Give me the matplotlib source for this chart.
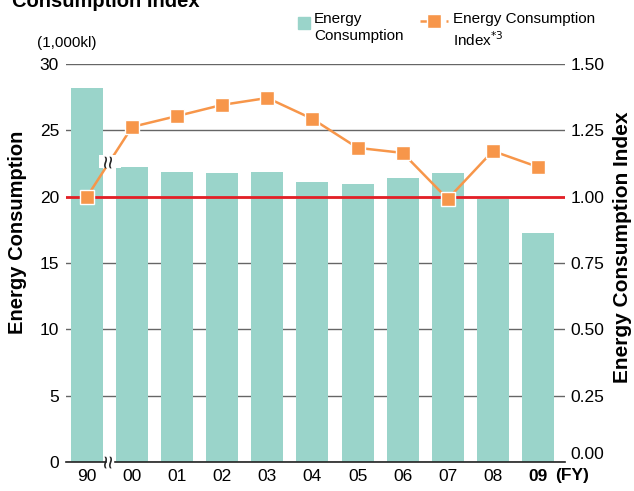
import matplotlib
matplotlib.use("Agg")
import matplotlib.pyplot as plt
from matplotlib.lines import Line2D
from matplotlib.patches import Rectangle
import numpy as np

plt.rcParams["font.family"] = ["Liberation Sans", "DejaVu Sans"]

# data
years = ["90", "00", "01", "02", "03", "04", "05", "06", "07", "08", "09"]
consumption = [28.2, 22.2, 21.85, 21.8, 21.85, 21.1, 20.95, 21.4, 21.8, 19.8, 17.25]
index = [1.00, 1.263, 1.304, 1.346, 1.372, 1.293, 1.184, 1.165, 0.991, 1.172, 1.112]
left_ticks = [0, 5, 10, 15, 20, 25, 30]
right_ticks = [0.0, 0.25, 0.5, 0.75, 1.0, 1.25, 1.5]

bar_color = "#9AD4CA"
line_color = "#F7964A"
red = "#E41F26"

fig = plt.figure(figsize=(6.34, 4.91), dpi=100)
ax = fig.add_axes([66 / 634, 1 - 462 / 491, 499 / 634, 398 / 491])
ax2 = ax.twinx()

x = np.arange(len(years))
ax.bar(x, consumption, width=0.71, color=bar_color, zorder=2)
ax.set_xlim(-0.466, 10.6)
ax.set_ylim(0, 30)
ax.set_yticks(left_ticks)
ax.set_xticks(x)
ax.set_xticklabels(years)
ax.tick_params(axis="y", length=0, pad=5, labelsize=12.5)
ax.tick_params(axis="x", length=0, pad=5, labelsize=12.5)
ax.get_xticklabels()[-1].set_fontweight("bold")
ax.set_axisbelow(True)
ax.yaxis.grid(True, color="#666666", linewidth=1.0, zorder=0)
for s in ["left", "right", "top"]:
    ax.spines[s].set_visible(False)
ax.spines["bottom"].set_color("#222222")
ax.spines["bottom"].set_linewidth(1.2)
ax.axhline(20, color=red, linewidth=2.0, zorder=3)

ax2.set_ylim(0, 1.5)
ax2.set_yticks(right_ticks)
ax2.set_yticklabels([f"{v:.2f}" for v in right_ticks])
ax2.tick_params(axis="y", length=0, pad=4, labelsize=12.5)
ax2.get_yticklabels()[0].set_verticalalignment("bottom")
for s in ax2.spines.values():
    s.set_visible(False)
ax2.plot(x, index, color=line_color, linewidth=1.8, marker="s", markersize=10,
         markerfacecolor=line_color, markeredgecolor="white", markeredgewidth=1.0,
         zorder=5)

# axis break marks
bx = 0.51
by = index[0] + (index[1] - index[0]) * bx
ax2.text(bx, by, "≈", rotation=90, ha="center", va="center", fontsize=17,
         color="#222222", zorder=6,
         bbox=dict(boxstyle="square,pad=0.0", fc="white", ec="none"))
ax.add_patch(Rectangle((bx - 0.06, -0.3), 0.12, 0.6, color="white", zorder=4,
                       clip_on=False))
ax.text(bx, 0, "≈", rotation=90, ha="center", va="center", fontsize=17,
        color="#222222", zorder=6, clip_on=False)

# labels
fig.text(18 / 634, 1 - 232 / 491, "Energy Consumption",
         rotation=90, ha="center", va="center", fontsize=14.5, fontweight="bold")
fig.text(622 / 634, 1 - 247 / 491, "Energy Consumption Index",
         rotation=90, ha="center", va="center", fontsize=15, fontweight="bold")
fig.text(12 / 634, 1 - 7 / 491, "Consumption Index", ha="left", va="baseline",
         fontsize=14.5, fontweight="bold")
fig.text(37 / 634, 1 - 43 / 491, "(1,000kl)", ha="left", va="center", fontsize=11)
ax.text(10.38, -0.035, "(FY)", transform=ax.get_xaxis_transform(), ha="left",
        va="center", fontsize=12.5, fontweight="bold")

# legend drawn by hand
fig.add_artist(Rectangle((298 / 634, 1 - 29 / 491), 12 / 634, 12 / 491,
                         transform=fig.transFigure, color=bar_color))
fig.text(314 / 634, 1 - 12 / 491, "Energy\nConsumption", ha="left", va="top",
         fontsize=11, linespacing=1.25)
fig.add_artist(Line2D([420 / 634, 448 / 634], [1 - 21 / 491] * 2,
                      transform=fig.transFigure, color=line_color, linewidth=1.8,
                      dashes=(3, 2.2)))
fig.add_artist(Line2D([434 / 634], [1 - 21 / 491], transform=fig.transFigure,
                      color=line_color, marker="s", markersize=10,
                      markeredgecolor="white", markeredgewidth=1.0))
fig.text(453 / 634, 1 - 12 / 491, "Energy Consumption\nIndex$^{*3}$", ha="left",
         va="top", fontsize=11, linespacing=1.25)

fig.savefig("out.png", dpi=100)
